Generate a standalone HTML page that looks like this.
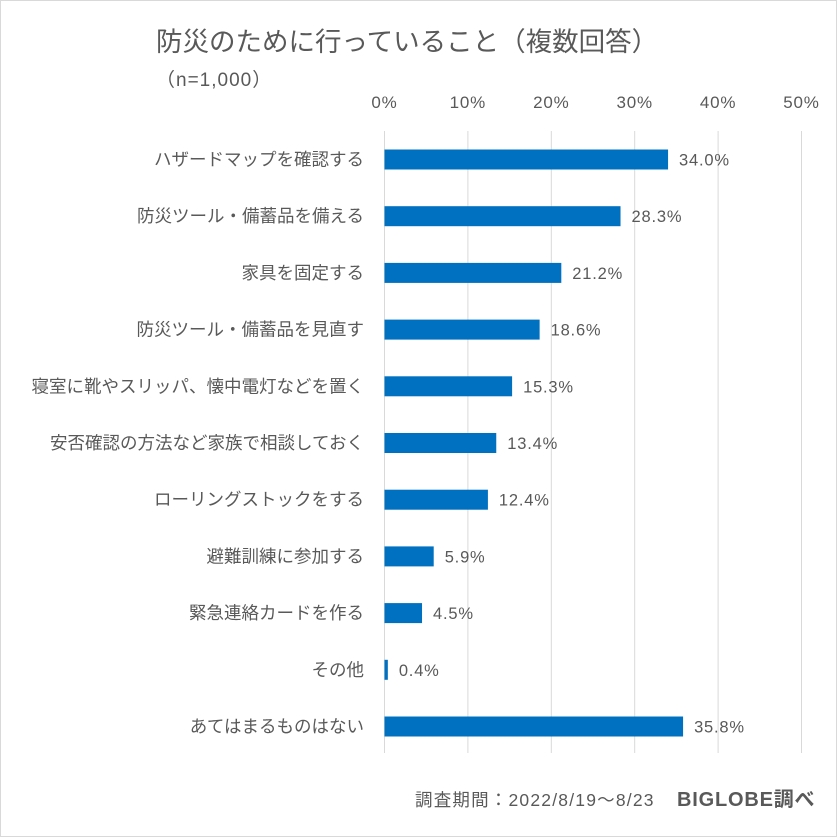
<!DOCTYPE html>
<html><head><meta charset="utf-8"><style>
html,body{margin:0;padding:0;background:#fff}
svg{display:block;font-family:"Liberation Sans","Noto Sans CJK JP",sans-serif}
</style></head><body>
<svg id="chart" width="840" height="840" viewBox="0 0 840 840" xmlns="http://www.w3.org/2000/svg">
<rect x="0.5" y="0.5" width="836" height="836" fill="#fff" stroke="#d9d9d9"/>
<text x="156" y="51" font-size="26.5" fill="#595959">防災のために行っていること（複数回答）</text>
<text x="156" y="86" font-size="19" letter-spacing="1" fill="#595959">（n=1,000）</text>
<g id="grid"></g>
<g id="ticks"></g>
<g id="bars"></g>
<text x="415" y="806" font-size="17.5" letter-spacing="1.2" fill="#595959">調査期間：2022/8/19～8/23</text>
<text x="677" y="806" font-size="20" font-weight="bold" letter-spacing="0.8" fill="#595959">BIGLOBE調べ</text>
</svg>
<script>
const categories=["ハザードマップを確認する","防災ツール・備蓄品を備える","家具を固定する","防災ツール・備蓄品を見直す","寝室に靴やスリッパ、懐中電灯などを置く","安否確認の方法など家族で相談しておく","ローリングストックをする","避難訓練に参加する","緊急連絡カードを作る","その他","あてはまるものはない"];
const values=[34.0,28.3,21.2,18.6,15.3,13.4,12.4,5.9,4.5,0.4,35.8];
const tickValues=[0,10,20,30,40,50];
const NS="http://www.w3.org/2000/svg";
const x0=384.5,x1=801.5,maxV=50,yTop=131,yBot=753,yFirst=159.5,step=56.7,bh=20;
const xs=v=>x0+(v/maxV)*(x1-x0);
const ys=i=>yFirst+i*step;
function mk(t,a,p){const e=document.createElementNS(NS,t);for(const k in a)e.setAttribute(k,a[k]);p.appendChild(e);return e;}
const g=document.getElementById('grid'),tk=document.getElementById('ticks'),b=document.getElementById('bars');
tickValues.forEach(v=>{
 const l=mk('line',{x1:xs(v),x2:xs(v),y1:yTop,y2:yBot,stroke:'#d9d9d9','stroke-width':1},g);
 
 
 const t=mk('text',{x:xs(v),y:108,'text-anchor':'middle','font-size':17,'letter-spacing':0.8,fill:'#595959'},tk);
 t.textContent=v+'%';
 
 
});
categories.forEach((c,i)=>{
 const y=ys(i);
 const lab=mk('text',{x:364,y:y+6,'text-anchor':'end','font-size':17.5,fill:'#595959'},b);
 lab.textContent=c;
 
 
 const r=mk('rect',{x:x0,y:y-bh/2,width:xs(values[i])-x0,height:bh,fill:'#0070c0'},b);
 
 
 const vl=mk('text',{x:xs(values[i])+11,y:y+6,'font-size':16.5,'letter-spacing':0.8,fill:'#595959'},b);
 vl.textContent=values[i].toFixed(1)+'%';
 
 
});
</script>
</body></html>
